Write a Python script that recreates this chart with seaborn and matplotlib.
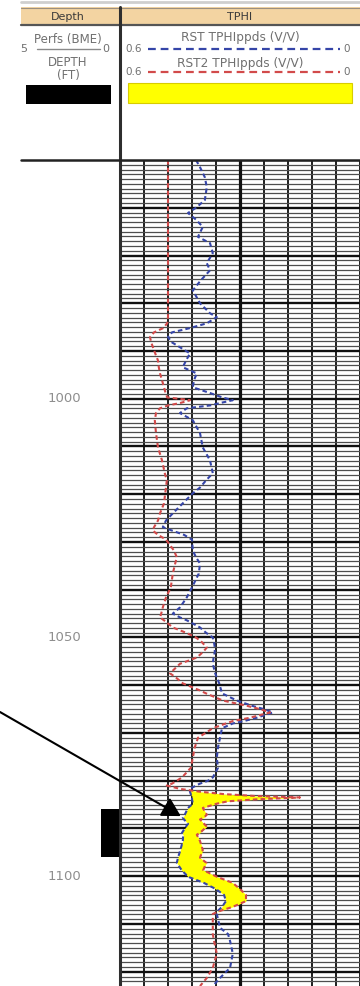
import numpy as np
import pandas as pd
import matplotlib
matplotlib.use("Agg")
import matplotlib.pyplot as plt
from matplotlib.patches import Rectangle
import seaborn as sns

# ---- log data -------------------------------------------------------------
# Measured depth (ft) with the two RST porosity passes (v/v)
depth = [
    950.0, 951.5, 953.6, 955.7, 958.4, 960.0, 961.1, 962.5, 964.0, 966.1,
    967.4, 969.5, 971.6, 973.1, 975.2, 977.3, 980.0, 982.1, 982.9, 984.2,
    985.2, 986.1, 987.1, 988.2, 990.5, 992.0, 993.4, 994.7, 996.1, 997.6,
    998.8, 999.7, 1000.3, 1000.9, 1001.4, 1002.0, 1003.0, 1004.5, 1007.2, 1010.2,
    1012.9, 1015.6, 1017.1, 1018.6, 1019.8, 1021.9, 1024.0, 1025.5, 1026.9, 1027.6,
    1028.5, 1029.5, 1031.8, 1033.2, 1034.5, 1036.6, 1039.5, 1041.6, 1043.7, 1045.0,
    1045.8, 1046.4, 1047.9, 1049.0, 1050.0, 1051.0, 1052.1, 1053.0, 1054.2, 1055.5,
    1057.5, 1058.4, 1059.6, 1061.1, 1061.7, 1063.2, 1064.3, 1065.0, 1065.7, 1066.8,
    1067.5, 1068.0, 1069.0, 1071.0, 1073.0, 1075.2, 1077.3, 1079.3, 1080.0, 1080.6,
    1081.0, 1081.7, 1082.3, 1082.8, 1083.2, 1083.5, 1083.9, 1084.3, 1084.8, 1085.7,
    1087.1, 1087.7, 1088.1, 1089.0, 1089.6, 1090.9, 1091.3, 1092.6, 1094.5, 1096.1,
    1097.2, 1098.7, 1100.1, 1101.4, 1102.7, 1103.9, 1105.2, 1106.4, 1107.4, 1107.9,
    1110.8, 1112.1, 1113.5, 1116.2, 1119.2, 1121.3, 1123.0,
]
rst_tphi = [
    0.410, 0.400, 0.388, 0.383, 0.388, 0.410, 0.430, 0.410, 0.393, 0.405,
    0.375, 0.368, 0.383, 0.375, 0.398, 0.418, 0.400, 0.375, 0.358, 0.383,
    0.425, 0.470, 0.480, 0.470, 0.425, 0.435, 0.443, 0.408, 0.415, 0.418,
    0.375, 0.345, 0.318, 0.350, 0.375, 0.433, 0.450, 0.418, 0.400, 0.393,
    0.375, 0.368, 0.385, 0.400, 0.418, 0.443, 0.468, 0.485, 0.493, 0.470,
    0.440, 0.420, 0.418, 0.410, 0.400, 0.403, 0.420, 0.433, 0.450, 0.468,
    0.450, 0.433, 0.400, 0.385, 0.368, 0.365, 0.363, 0.363, 0.366, 0.368,
    0.362, 0.358, 0.352, 0.347, 0.345, 0.308, 0.270, 0.240, 0.218, 0.258,
    0.290, 0.318, 0.345, 0.350, 0.355, 0.358, 0.355, 0.368, 0.380, 0.400,
    0.410, 0.425, 0.425, 0.423, 0.420, 0.420, 0.420, 0.419, 0.418, 0.430,
    0.438, 0.443, 0.440, 0.430, 0.435, 0.445, 0.442, 0.443, 0.449, 0.455,
    0.458, 0.446, 0.430, 0.390, 0.360, 0.340, 0.335, 0.345, 0.357, 0.358,
    0.350, 0.330, 0.325, 0.318, 0.325, 0.350, 0.368,
]
rst2_tphi = [
    0.480, 0.480, 0.480, 0.480, 0.480, 0.480, 0.480, 0.480, 0.480, 0.480,
    0.480, 0.480, 0.480, 0.480, 0.480, 0.480, 0.480, 0.480, 0.480, 0.482,
    0.492, 0.515, 0.525, 0.522, 0.512, 0.505, 0.503, 0.500, 0.495, 0.490,
    0.486, 0.482, 0.425, 0.450, 0.480, 0.500, 0.510, 0.513, 0.510, 0.505,
    0.495, 0.488, 0.483, 0.485, 0.487, 0.490, 0.500, 0.505, 0.515, 0.518,
    0.505, 0.485, 0.465, 0.458, 0.462, 0.468, 0.473, 0.485, 0.493, 0.497,
    0.500, 0.490, 0.468, 0.435, 0.410, 0.395, 0.383, 0.392, 0.408, 0.450,
    0.475, 0.460, 0.443, 0.400, 0.385, 0.343, 0.283, 0.250, 0.225, 0.275,
    0.318, 0.335, 0.368, 0.405, 0.413, 0.418, 0.423, 0.445, 0.458, 0.470,
    0.483, 0.450, 0.400, 0.340, 0.260, 0.150, 0.260, 0.330, 0.358, 0.393,
    0.383, 0.390, 0.400, 0.390, 0.383, 0.400, 0.408, 0.400, 0.393, 0.400,
    0.384, 0.392, 0.358, 0.318, 0.300, 0.285, 0.285, 0.318, 0.355, 0.368,
    0.368, 0.368, 0.365, 0.358, 0.368, 0.383, 0.400,
]

# Perforated interval (ft) and annotated depths
perf_top, perf_base = 1086.0, 1096.0
depth_labels = [1000, 1050, 1100]
arrow_target = (0.448, 1087.4)   # (TPHI, depth) pointed at by the callout

# Track scale: 0.6 on the left, 0 on the right
scale_left, scale_right = 0.6, 0.0

# ---- styling ----------------------------------------------------------------
sns.set_style("white")
plt.rcParams["font.family"] = ["DejaVu Sans"]

W, H = 360, 986
track_x0, track_x1 = 120, 360
track_top = 160
px_per_ft = 4.775
depth_top = 950.0
depth_base = depth_top + (H - track_top) / px_per_ft

blue = "#3545a8"
red = "#d24a4a"
yellow = "#ffff00"
tan = "#f3d4a2"
label_grey = "#707070"

fig = plt.figure(figsize=(W / 100, H / 100), dpi=100)
fig.patch.set_facecolor("white")

# TPHI track
ax = fig.add_axes([track_x0 / W, 0, (track_x1 - track_x0) / W, (H - track_top) / H])
ax.set_xlim(scale_left, scale_right)
ax.set_ylim(depth_base, depth_top)
ax.set_xticks(np.arange(0.0, 0.6001, 0.06))
ax.set_yticks(np.arange(950, 1131, 10))
ax.set_yticks(np.arange(950, 1131, 1), minor=True)
ax.tick_params(which="both", length=0, labelleft=False, labelbottom=False)
ax.set_axisbelow(True)
ax.yaxis.grid(True, which="minor", color="#4e4e4e", lw=0.9)
ax.yaxis.grid(True, which="major", color="#111111", lw=1.7)
ax.xaxis.grid(True, which="major", color="#1e1e1e", lw=1.4)
ax.axvline(0.3, color="#111111", lw=2.3, zorder=0.6)
for s in ax.spines.values():
    s.set_visible(False)

df = pd.DataFrame({"depth": depth, "rst": rst_tphi, "rst2": rst2_tphi})

# Yellow shading where the second pass reads lower porosity than the first
ax.fill_betweenx(df["depth"], df["rst"], df["rst2"],
                 where=df["rst"] > df["rst2"], interpolate=True,
                 color=yellow, lw=0, zorder=2)

sns.lineplot(data=df, x="rst", y="depth", orient="y", sort=False, estimator=None,
             ax=ax, color=blue, lw=1.5, linestyle=(0, (2.2, 1.5)), legend=False, zorder=3)
sns.lineplot(data=df, x="rst2", y="depth", orient="y", sort=False, estimator=None,
             ax=ax, color=red, lw=1.5, linestyle=(0, (2.2, 1.5)), legend=False, zorder=3)
ax.set_xlabel("")
ax.set_ylabel("")

# Depth column
axl = fig.add_axes([21 / W, 0, (track_x0 - 21) / W, (H - track_top) / H], sharey=ax)
axl.set_xlim(0, 1)
axl.axis("off")
for d in depth_labels:
    axl.text(0.44, d, f"{d}", ha="center", va="center", fontsize=9.5, color="#8e8e8e")
axl.axhspan(perf_top, perf_base, xmin=0.81, xmax=1.0, color="black", lw=0)
ax.set_ylim(depth_base, depth_top)

# Header and frame, drawn in pixel space
ov = fig.add_axes([0, 0, 1, 1])
ov.set_xlim(0, W)
ov.set_ylim(H, 0)
ov.axis("off")
ov.set_zorder(5)

ov.plot([21, W], [2, 2], color="#cfcfcf", lw=2)
ov.add_patch(Rectangle((21, 7), W - 21, 18, facecolor=tan, edgecolor="none"))
ov.plot([21, W], [7.5, 7.5], color="#9b8f80", lw=0.8)
ov.plot([21, W], [25, 25], color="#555555", lw=1.6)
ov.text(68, 16.5, "Depth", ha="center", va="center", fontsize=8, color="#3a3a3a")
ov.text(240, 16.5, "TPHI", ha="center", va="center", fontsize=8, color="#3a3a3a")

# depth column header
ov.text(68, 39, "Perfs (BME)", ha="center", va="center", fontsize=8.5, color=label_grey)
ov.text(24, 49, "5", ha="center", va="center", fontsize=8, color=label_grey)
ov.plot([37, 100], [49, 49], color="#8a8a8a", lw=1)
ov.text(106, 49, "0", ha="center", va="center", fontsize=8, color=label_grey)
ov.text(68, 63, "DEPTH", ha="center", va="center", fontsize=8.5, color=label_grey)
ov.text(68, 76, "(FT)", ha="center", va="center", fontsize=8.5, color=label_grey)
ov.add_patch(Rectangle((26, 85), 85, 19, facecolor="black", edgecolor="none"))

# track header
ov.text(240, 38, "RST TPHIppds (V/V)", ha="center", va="center", fontsize=8.7, color=label_grey)
ov.text(240, 63, "RST2 TPHIppds (V/V)", ha="center", va="center", fontsize=8.7, color=label_grey)
for yy, col in [(49, blue), (72, red)]:
    ov.text(134, yy, f"{scale_left:g}", ha="center", va="center", fontsize=7.5, color=label_grey)
    ov.text(347, yy, f"{scale_right:g}", ha="center", va="center", fontsize=7.5, color=label_grey)
    ov.plot([148, 340], [yy, yy], color=col, lw=1.6, linestyle=(0, (3.5, 2.2)))
ov.add_patch(Rectangle((128, 83), 224, 20, facecolor=yellow, edgecolor="#d8cc00", lw=0.8))

# frame lines
ov.plot([119.5, 119.5], [7, H], color="#2e2e2e", lw=2.2)
ov.plot([21, W], [160, 160], color="#222222", lw=1.8)

# callout arrow onto the shaded interval
ov.annotate("", xy=arrow_target, xycoords=ax.transData,
            xytext=(0, H - 712), textcoords="figure pixels",
            arrowprops=dict(arrowstyle="-|>,head_length=0.8,head_width=0.45",
                            color="black", lw=1.5, shrinkA=0, shrinkB=0,
                            mutation_scale=14))

fig.savefig("out.png", dpi=100)
